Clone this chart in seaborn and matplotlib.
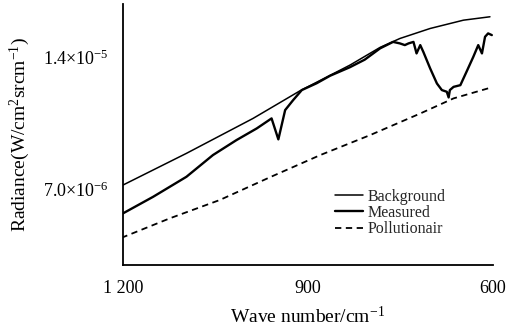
import matplotlib
matplotlib.use("Agg")
import matplotlib.pyplot as plt
import seaborn as sns
import pandas as pd

# Data (wavenumber in cm^-1, radiance in 1e-6 W/(cm^2 sr cm^-1))
bg_wn = [1200, 1097, 989, 913, 832, 783, 751, 702, 648, 605]
bg_val = [7.21, 8.89, 10.74, 12.20, 13.56, 14.50, 14.97, 15.50, 15.94, 16.12]

ms_wn = [1200, 1151, 1097, 1054, 1016, 983, 959, 948, 937, 924, 910, 886,
         864, 832, 808, 783, 762, 751, 743, 737, 729, 724, 718, 713, 702, 691, 683,
         675, 672, 670, 664, 653, 643, 632, 624, 618, 613, 608, 602]
ms_val = [5.71, 6.59, 7.65, 8.80, 9.59, 10.21, 10.74, 9.63, 11.18, 11.71, 12.24, 12.60,
          13.00, 13.45, 13.85, 14.45, 14.79, 14.71, 14.62, 14.71, 14.79,
          14.18, 14.62, 14.26, 13.39, 12.59, 12.24, 12.15, 11.85, 12.24, 12.41, 12.50,
          13.21, 14.00, 14.62, 14.18, 15.06, 15.24, 15.15]

pl_wn = [1200, 1124, 1043, 962, 880, 799, 718, 664, 608]
pl_val = [4.45, 5.45, 6.42, 7.62, 8.80, 9.86, 11.00, 11.80, 12.33]

x_ticks = [1200, 900, 600]
x_ticklabels = ["1 200", "900", "600"]
y_ticks = [7.0e-6, 1.4e-5]
y_ticklabels = [r"7.0×10$^{-6}$", r"1.4×10$^{-5}$"]

sns.set_style("white")
plt.rcParams["font.family"] = ["Liberation Serif", "DejaVu Serif"]
plt.rcParams["mathtext.fontset"] = "custom"
plt.rcParams["mathtext.rm"] = "Liberation Serif"
plt.rcParams["mathtext.it"] = "Liberation Serif:italic"
plt.rcParams["mathtext.bf"] = "Liberation Serif:bold"

fig = plt.figure(figsize=(5.12, 3.29), dpi=100)
ax = fig.add_axes([0.240, 0.1945, 0.723, 0.793])

bg = pd.DataFrame({"wn": bg_wn, "val": [v * 1e-6 for v in bg_val]})
ms = pd.DataFrame({"wn": ms_wn, "val": [v * 1e-6 for v in ms_val]})
pl = pd.DataFrame({"wn": pl_wn, "val": [v * 1e-6 for v in pl_val]})

sns.lineplot(data=bg, x="wn", y="val", ax=ax, color="black", lw=1.1,
             estimator=None, label="Background")
sns.lineplot(data=ms, x="wn", y="val", ax=ax, color="black", lw=1.7,
             estimator=None, label="Measured")
sns.lineplot(data=pl, x="wn", y="val", ax=ax, color="black", lw=1.3,
             estimator=None, label="Pollutionair", linestyle=(0, (3.5, 2.5)))

ax.set_xlim(1200, 600)
ax.set_ylim(2.98e-6, 16.79e-6)
ax.set_xticks(x_ticks)
ax.set_xticklabels(x_ticklabels)
ax.set_yticks(y_ticks)
ax.set_yticklabels(y_ticklabels)
ax.tick_params(axis="both", direction="out", length=4, width=1.2, labelsize=13,
               color="black", labelcolor="black")
ax.tick_params(axis="y", pad=6)
ax.tick_params(axis="x", pad=7)
for s in ["top", "right"]:
    ax.spines[s].set_visible(False)
for s in ["left", "bottom"]:
    ax.spines[s].set_color("black")
    ax.spines[s].set_linewidth(1.3)

ax.set_xlabel(r"Wave number/cm$^{-1}$", fontsize=14, color="black", labelpad=6)
ax.set_ylabel(r"Radiance(W/cm$^{2}$srcm$^{-1}$)", fontsize=14, color="black", labelpad=8)

leg = ax.legend(loc="center left", bbox_to_anchor=(0.551, 0.20), frameon=False,
                fontsize=11.5, handlelength=1.75, handletextpad=0.3,
                labelspacing=0.02, borderpad=0)

fig.savefig("out.png", dpi=100)
